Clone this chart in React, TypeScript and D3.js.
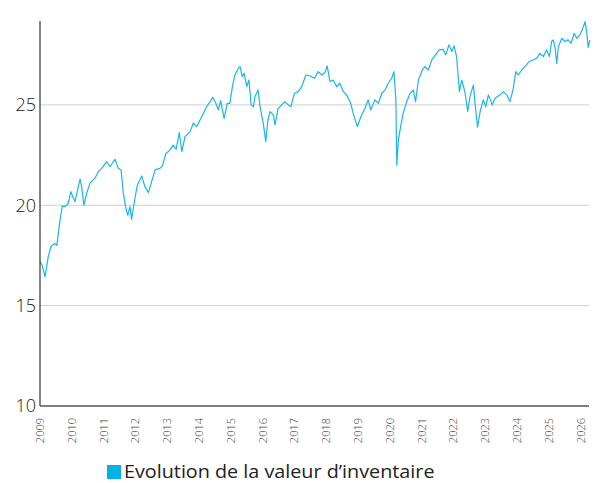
import React from "react";
import * as d3 from "d3";

// Valeur d'inventaire (decimal year, value)
const years = [
  2009.0, 2009.07, 2009.16, 2009.26, 2009.35, 2009.47, 2009.53, 2009.63, 2009.7, 2009.79, 2009.89, 2009.97,
  2010.05, 2010.1, 2010.26, 2010.31, 2010.38, 2010.47, 2010.57, 2010.73, 2010.83, 2010.94,
  2011.1, 2011.2, 2011.36, 2011.46, 2011.55, 2011.62, 2011.69, 2011.76, 2011.83, 2011.88, 2011.97,
  2012.06, 2012.2, 2012.3, 2012.41, 2012.51, 2012.62, 2012.77, 2012.85, 2012.96,
  2013.07, 2013.19, 2013.28, 2013.38, 2013.46, 2013.56, 2013.72, 2013.82, 2013.93,
  2014.03, 2014.14, 2014.24, 2014.35, 2014.43, 2014.53, 2014.61, 2014.68, 2014.79, 2014.89, 2014.97,
  2015.05, 2015.13, 2015.24, 2015.29, 2015.36, 2015.42, 2015.5, 2015.57, 2015.64, 2015.71, 2015.76, 2015.86, 2015.92,
  2016.02, 2016.1, 2016.16, 2016.23, 2016.34, 2016.39, 2016.49, 2016.6, 2016.7, 2016.81, 2016.89,
  2017.0, 2017.12, 2017.23, 2017.36, 2017.49, 2017.63, 2017.75, 2017.86, 2017.96,
  2018.03, 2018.12, 2018.22, 2018.33, 2018.43, 2018.54, 2018.64, 2018.77, 2018.85, 2018.98,
  2019.09, 2019.22, 2019.32, 2019.4, 2019.53, 2019.64, 2019.75, 2019.85, 2019.95,
  2020.06, 2020.13, 2020.19, 2020.22, 2020.27, 2020.34, 2020.42, 2020.53, 2020.64, 2020.74, 2020.81, 2020.9,
  2021.02, 2021.11, 2021.21, 2021.32, 2021.44, 2021.55, 2021.68, 2021.76, 2021.86, 2021.95,
  2022.02, 2022.1, 2022.15, 2022.19, 2022.26, 2022.36, 2022.45, 2022.52, 2022.63, 2022.68, 2022.76, 2022.84, 2022.94,
  2023.02, 2023.1, 2023.22, 2023.31, 2023.47, 2023.57, 2023.68, 2023.78, 2023.88, 2023.96,
  2024.04, 2024.15, 2024.25, 2024.38, 2024.51, 2024.62, 2024.72, 2024.83, 2024.93,
  2025.02, 2025.09, 2025.14, 2025.2, 2025.25, 2025.3, 2025.41, 2025.51, 2025.61, 2025.7, 2025.8, 2025.88, 2025.98,
  2026.05, 2026.14, 2026.19, 2026.24, 2026.29,
];

const values = [
  17.19, 17.0, 16.44, 17.44, 17.97, 18.1, 18.0, 19.27, 19.96, 19.93, 20.1, 20.68,
  20.36, 20.18, 21.3, 20.93, 20.0, 20.6, 21.1, 21.35, 21.67, 21.84,
  22.17, 21.92, 22.29, 21.84, 21.76, 20.6, 19.93, 19.5, 19.93, 19.3, 20.2,
  21.0, 21.46, 20.93, 20.63, 21.18, 21.76, 21.84, 21.96, 22.59,
  22.72, 23.0, 22.79, 23.62, 22.67, 23.42, 23.67, 24.09, 23.92,
  24.25, 24.58, 24.91, 25.16, 25.38, 25.08, 24.75, 25.21, 24.33, 25.08, 25.08,
  25.91, 26.49, 26.83, 26.91, 26.41, 26.58, 25.91, 26.24, 25.0, 24.91, 25.41, 25.74, 24.91,
  24.09, 23.17, 24.17, 24.67, 24.5, 24.0, 24.83, 25.0, 25.16, 25.0, 24.91,
  25.58, 25.66, 25.91, 26.49, 26.44, 26.33, 26.66, 26.49, 26.61,
  26.94, 26.16, 26.24, 25.91, 26.08, 25.66, 25.5, 25.08, 24.58, 23.92,
  24.41, 24.83, 25.25, 24.75, 25.25, 25.08, 25.58, 25.74, 26.08,
  26.33, 26.66, 25.25, 22.0, 23.25, 23.92, 24.58, 25.16, 25.58, 25.74, 25.16, 26.24,
  26.74, 26.91, 26.74, 27.24, 27.49, 27.74, 27.77, 27.49, 27.99, 27.66,
  27.94, 27.41, 26.41, 25.66, 26.24, 25.66, 24.67, 25.41, 26.0, 25.08, 23.89, 24.67, 25.25,
  24.91, 25.5, 25.0, 25.33, 25.5, 25.66, 25.5, 25.16, 25.8, 26.66,
  26.49, 26.74, 26.91, 27.16, 27.24, 27.33, 27.57, 27.41, 27.74,
  27.41, 28.16, 28.24, 27.82, 27.07, 27.9, 28.32, 28.16, 28.24, 28.07, 28.57, 28.32, 28.49,
  28.74, 29.15, 28.65, 27.87, 28.24,
];

const yTicks = [10, 15, 20, 25];
const xTicks = d3.range(2009, 2027);
const seriesLabel = "Evolution de la valeur d\u2019inventaire";

const W = 597;
const H = 483;
const FONT = "'Open Sans', Lato, sans-serif";
const LINE_COLOR = "#1bb6e6";

export default function App() {
  const data = years.map((t, i) => ({ t, v: values[i] }));

  const x = d3.scaleLinear().domain([2009, 2026]).range([40, 580.6]);
  const y = d3.scaleLinear().domain([10, 29.18]).range([406, 21]);
  const right = 589;

  const line = d3
    .line<{ t: number; v: number }>()
    .x((d) => x(d.t))
    .y((d) => y(d.v));

  return (
    <div style={{ position: "absolute", left: 0, top: 0 }}>
      <svg width={W} height={H} style={{ display: "block", fontFamily: FONT }}>
        {/* gridlines */}
        {yTicks
          .filter((t) => t !== 10)
          .map((t) => (
            <line key={t} x1={40} x2={right} y1={y(t)} y2={y(t)} stroke="#d0d0d0" strokeWidth={1} />
          ))}

        {/* series */}
        <path d={line(data) || ""} fill="none" stroke={LINE_COLOR} strokeWidth={1.2} strokeLinejoin="round" />

        {/* axes */}
        <line x1={40} x2={40} y1={21} y2={406} stroke="#333" strokeWidth={1.2} />
        <line x1={40} x2={right} y1={406} y2={406} stroke="#555" strokeWidth={1.5} />

        {/* y labels */}
        {yTicks.map((t) => (
          <text key={t} x={36} y={y(t)} dy="0.36em" textAnchor="end" fontSize={18} fontWeight={300} fill="#222">
            {t}
          </text>
        ))}

        {/* x labels */}
        {xTicks.map((t) => (
          <text
            key={t}
            transform={`translate(${x(t) + 4},418) rotate(-90)`}
            textAnchor="end"
            fontSize={11}
            fontWeight={300}
            fill="#444"
          >
            {t}
          </text>
        ))}

        {/* legend */}
        <rect x={107} y={465} width={14} height={14} fill="#00b3e3" />
        <text transform="translate(124,478) scale(1.13,1)" fontSize={17.5} fill="#222">
          {seriesLabel}
        </text>
      </svg>
    </div>
  );
}
